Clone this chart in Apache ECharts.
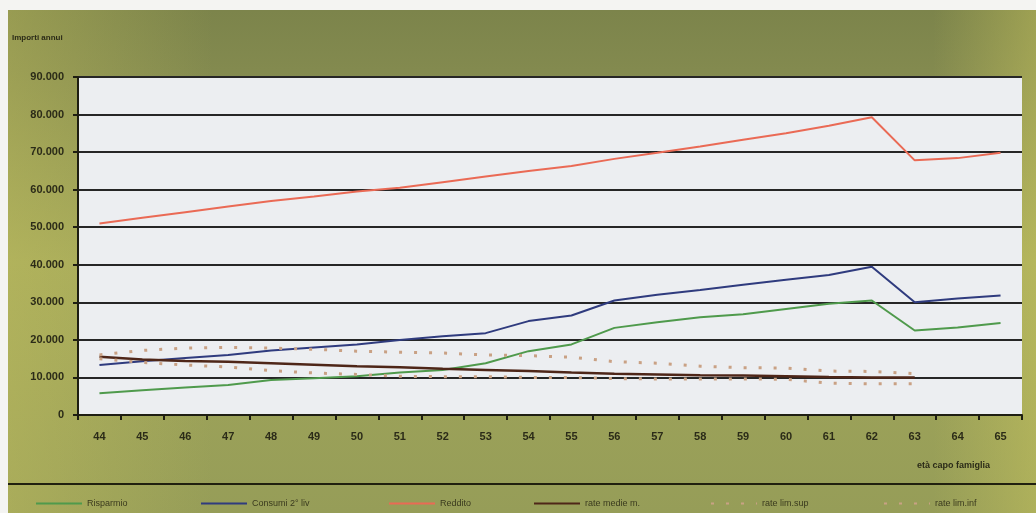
<!DOCTYPE html>
<html>
<head>
<meta charset="utf-8">
<style>
  html, body { margin: 0; padding: 0; background: #f4f4f2; }
  #main { width: 1036px; height: 513px; }
</style>
<script src="https://cdn.jsdelivr.net/npm/echarts@6/dist/echarts.min.js"></script>
</head>
<body>
<div id="main"></div>
<script>
// età capo famiglia
const eta = ['44','45','46','47','48','49','50','51','52','53','54','55','56','57','58','59','60','61','62','63','64','65'];

const risparmio = [5800, 6600, 7300, 8000, 9300, 9800, 10300, 11300, 12000, 13800, 17000, 18800, 23200, 24700, 26000, 26800, 28200, 29600, 30500, 22500, 23300, 24500];
const consumi = [13300, 14300, 15200, 16000, 17200, 18000, 18800, 20000, 21000, 21800, 25000, 26500, 30500, 32000, 33300, 34700, 36000, 37300, 39500, 30000, 31000, 31800];
const reddito = [51000, 52500, 54000, 55500, 57000, 58200, 59500, 60500, 62000, 63500, 65000, 66300, 68200, 69800, 71500, 73300, 75000, 77000, 79300, 67800, 68400, 69800];
const rateMedie = [15500, 14800, 14400, 14200, 13800, 13400, 13000, 12700, 12300, 12000, 11700, 11300, 11000, 10800, 10600, 10500, 10300, 10100, 10000, 10000, null, null];
const rateSup = [16000, 17200, 17800, 18000, 17800, 17500, 17000, 16700, 16500, 16000, 15800, 15400, 14200, 13800, 13000, 12600, 12500, 11700, 11600, 11000, null, null];
const rateInf = [15000, 14000, 13300, 12800, 11800, 11200, 10800, 10300, 10200, 10200, 10000, 10000, 9700, 9600, 9600, 9600, 9500, 8500, 8300, 8300, null, null];

const chart = echarts.init(document.getElementById('main'));
const txt = '#2b2b18';
const fnt = 'Liberation Sans, Arial, sans-serif';

const mkLine = (name, data, color, type, width) => ({
    name: name,
    type: 'line',
    data: data,
    symbol: 'none',
    connectNulls: false,
    lineStyle: { color: color, width: width, type: type },
    itemStyle: { color: color },
    z: 3
});

// one legend per item so the spacing matches the original strip
const legendPos = [
    ['Risparmio', 30],
    ['Consumi 2° liv', 195],
    ['Reddito', 383],
    ['rate medie m.', 528],
    ['rate lim.sup', 705],
    ['rate lim.inf', 878]
];

const option = {
    backgroundColor: 'transparent',
    animation: false,
    graphic: [
        {
            type: 'rect', left: 8, top: 10, z: -10,
            shape: { width: 1028, height: 503 },
            style: {
                fill: new echarts.graphic.LinearGradient(0, 0, 0, 1, [
                    { offset: 0, color: '#7c844b' },
                    { offset: 0.12, color: '#838a4f' },
                    { offset: 0.5, color: '#a2a75a' },
                    { offset: 1, color: '#969d58' }
                ])
            }
        },
        {
            type: 'rect', left: 8, top: 10, z: -9,
            shape: { width: 1028, height: 503 },
            style: {
                fill: new echarts.graphic.LinearGradient(0, 0, 1, 0, [
                    { offset: 0, color: 'rgba(205,200,95,0.35)' },
                    { offset: 0.2, color: 'rgba(205,200,95,0)' },
                    { offset: 0.9, color: 'rgba(205,200,95,0)' },
                    { offset: 1, color: 'rgba(210,205,95,0.4)' }
                ])
            }
        },
        {
            type: 'line', z: 5,
            shape: { x1: 8, y1: 484, x2: 1036, y2: 484 },
            style: { stroke: '#20200f', lineWidth: 2 }
        },
        {
            type: 'text', left: 12, top: 34,
            style: { text: 'Importi annui', fill: txt, font: 'bold 8px ' + fnt }
        },
        {
            type: 'text', right: 46, top: 461,
            style: { text: 'età capo famiglia', fill: txt, font: 'bold 9px ' + fnt }
        }
    ],
    legend: legendPos.map(([n, x]) => ({
        data: [n],
        left: x,
        top: 494,
        itemWidth: 46,
        itemHeight: 10,
        itemGap: 8,
        itemStyle: { opacity: 0 },
        textStyle: { color: '#3a3a1e', fontSize: 9, fontFamily: fnt }
    })),
    grid: { left: 78, right: 14, top: 77, bottom: 98, containLabel: false,
        show: true, backgroundColor: '#eceef1', borderWidth: 0 },
    xAxis: {
        type: 'category',
        data: eta,
        boundaryGap: true,
        axisLine: { lineStyle: { color: '#1e1e12', width: 2 } },
        axisTick: { show: true, interval: 0, length: 5, lineStyle: { color: '#1e1e12', width: 2 } },
        axisLabel: { color: txt, fontSize: 11, fontWeight: 'bold', fontFamily: fnt, margin: 16, interval: 0 },
        splitLine: { show: false }
    },
    yAxis: {
        type: 'value',
        min: 0,
        max: 90000,
        interval: 10000,
        axisLine: { show: true, lineStyle: { color: '#1e1e12', width: 2 } },
        axisTick: { show: true, length: 5, lineStyle: { color: '#1e1e12', width: 2 } },
        axisLabel: {
            color: txt, fontSize: 11, fontWeight: 'bold', fontFamily: fnt, margin: 14,
            formatter: v => v === 0 ? '0' : (v / 1000) + '.000'
        },
        splitLine: { show: true, lineStyle: { color: '#262626', width: 2 } }
    },
    series: [
        mkLine('Risparmio', risparmio, '#4f9a4c', 'solid', 2),
        mkLine('Consumi 2° liv', consumi, '#2f3b7e', 'solid', 2),
        mkLine('Reddito', reddito, '#ea6a55', 'solid', 2),
        mkLine('rate medie m.', rateMedie, '#4e2618', 'solid', 2.5),
        mkLine('rate lim.sup', rateSup, '#c9a184', [3, 12], 3),
        mkLine('rate lim.inf', rateInf, '#c9a184', [3, 12], 3)
    ]
};

chart.setOption(option);
</script>
</body>
</html>
